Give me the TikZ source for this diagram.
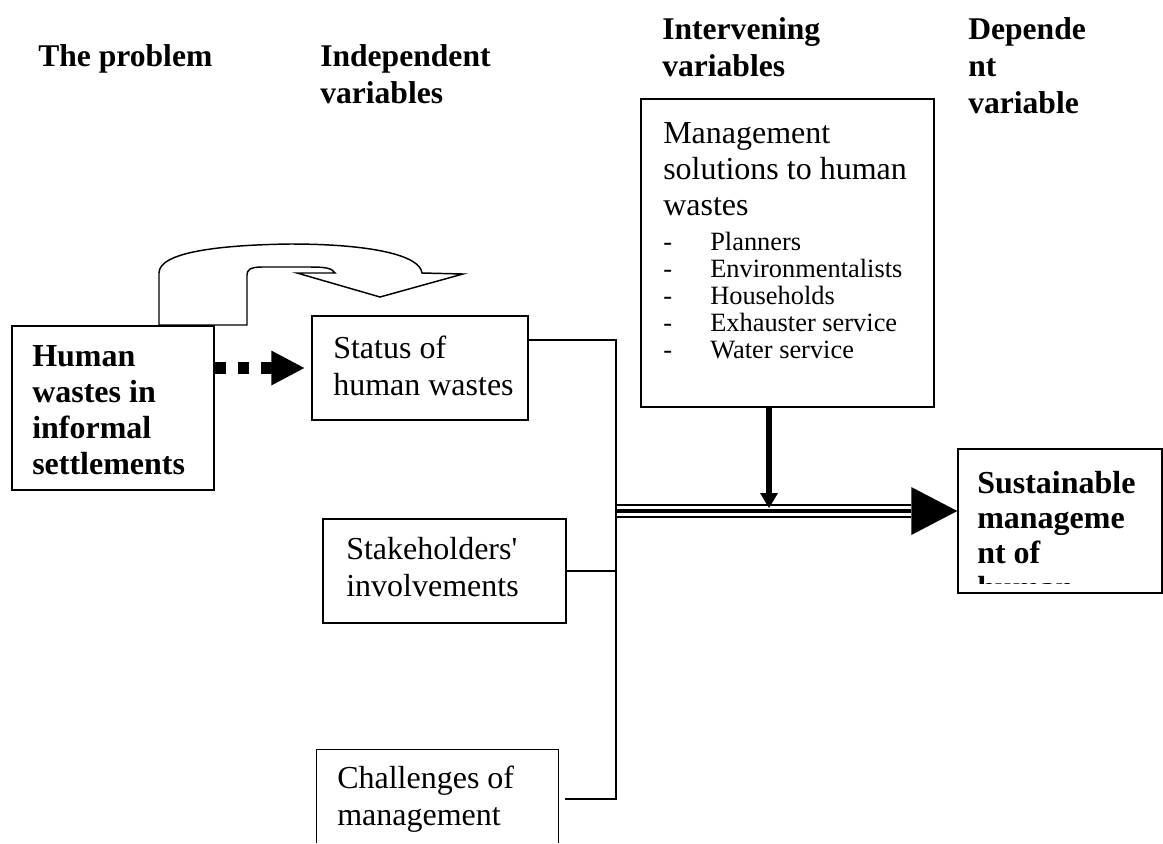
\documentclass[tikz,border=0pt]{standalone}
\usepackage{fontspec}
\setmainfont{Liberation Serif}
\usetikzlibrary{fit}
\newcommand\BodyF{\fontsize{24}{27.75}\selectfont}
\newcommand\BoldF{\fontsize{24}{27}\selectfont\bfseries}
\newcommand\HeadF{\fontsize{23.7}{27.75}\selectfont\bfseries}
\newcommand\ListF{\fontsize{19.8}{20.25}\selectfont}
\begin{document}
\begin{tikzpicture}[x=0.75pt,y=-0.75pt,
  box/.style={draw, line width=1.1pt, inner sep=0pt},
  lbl/.style={anchor=base west, inner sep=0pt},
  wire/.style={line width=1.1pt}]
\useasboundingbox (0,0) rectangle (1163,843);
\fill[white] (0,0) rectangle (1163,843);

% headings
\node[lbl] (hprob) at (38,66) {\parbox[t]{200pt}{\HeadF\raggedright The problem}};
\node[lbl] (hind) at (320,66) {\parbox[t]{200pt}{\HeadF\raggedright Independent\\variables}};
\node[lbl] (hint) at (662,39) {\parbox[t]{200pt}{\HeadF\raggedright Intervening\\variables}};
\node[lbl] (hdep) at (968,39) {\parbox[t]{200pt}{\HeadF\raggedright Depende\\nt\\variable}};

% curved U-turn arrow
\draw[line width=1.1pt, fill=white, line join=miter]
  (159,325) -- (159,273)
  .. controls (159,252) and (220,245) .. (290,244)
  .. controls (370,244) and (420,255) .. (422,273)
  -- (463,274) -- (380,297) -- (297,273) -- (335,273)
  .. controls (332,268) and (325,267) .. (310,267)
  -- (262,267) .. controls (250,267) and (247,270) .. (247,275)
  -- (247,325) -- cycle;

% boxes
\node[box, fit={(12,326) (214,490)}] (hw) {};
\node[box, fit={(312,316) (528,420)}] (status) {};
\node[box, fit={(323,519) (566,623)}] (stake) {};
\node[inner sep=0pt, fit={(317,750) (558,843)}] (chal) {};
\draw[line width=1.1pt] (chal.south west) -- (chal.north west) -- (chal.north east) -- (chal.south east);
\node[box, line width=1.4pt, fit={(641,99) (934,407)}] (mgmt) {};
\node[box, fit={(958,449) (1162,593)}] (sust) {};

% box texts
\node[lbl] (hwt) at (32,366) {\parbox[t]{200pt}{\BoldF\raggedright Human\\wastes in\\informal\\settlements}};
\node[lbl] (statust) at (333,358) {\parbox[t]{200pt}{\BodyF\raggedright Status of\\human wastes}};
\node[lbl] (staket) at (346,559) {\parbox[t]{200pt}{\BodyF\raggedright Stakeholders\textquotesingle\\involvements}};
\node[lbl] (chalt) at (337,788) {\parbox[t]{200pt}{\BodyF\raggedright Challenges of\\management}};
\node[lbl] (mgmtt) at (663,143) {\parbox[t]{250pt}{\fontsize{24}{27}\selectfont\raggedright Management\\solutions to human\\wastes}};
\node[lbl] (mgmtl) at (663,250) {\parbox[t]{250pt}{\ListF\raggedright
  \makebox[35.25pt][l]{-}Planners\\
  \makebox[35.25pt][l]{-}Environmentalists\\
  \makebox[35.25pt][l]{-}Households\\
  \makebox[35.25pt][l]{-}Exhauster service\\
  \makebox[35.25pt][l]{-}Water service}};
\begin{scope}
  \clip (958,449) rectangle (1162,583);
  \node[lbl] (sustt) at (977,493) {\parbox[t]{200pt}{\fontsize{24}{26.25}\selectfont\bfseries\raggedright Sustainable\\manageme\\nt of\\human\\wastes}};
\end{scope}

% dotted arrow
\draw[line width=9pt, dash pattern=on 8.25pt off 9pt] (hw.east |- status.west) -- ([xshift=-29.25pt]status.west);
\fill ([xshift=-5.25pt]status.west) -- ++(-33,-17.5) -- ++(0,35) -- cycle;

% bus
\coordinate (b1) at (616,340);
\coordinate (b4) at (616,799);
\coordinate (j) at (616,511);
\draw[wire] (status.east |- b1) -- (b1) -- (b4) -- ([xshift=5.25pt]chal.east |- b4);
\draw[wire] (stake.east) -- (stake.east -| b1);

% triple line with head
\coordinate (hb) at ([xshift=-34.5pt]sust.west |- j);
\draw[line width=3.5pt] (j) -- (hb);
\draw[line width=1.4pt] ([yshift=4.6pt]j) -- ([yshift=4.6pt]hb);
\draw[line width=1.4pt] ([yshift=-4.6pt]j) -- ([yshift=-4.6pt]hb);
\fill (sust.west |- j) -- ++(-46,-24) -- ++(0,48) -- cycle;

% vertical arrow
\coordinate (vx) at (769,508);
\draw[line width=4.5pt] (vx |- mgmt.south) -- ([yshift=10pt]vx);
\fill (vx) -- ++(-9,-15) -- ++(18,0) -- cycle;
\end{tikzpicture}
\end{document}
